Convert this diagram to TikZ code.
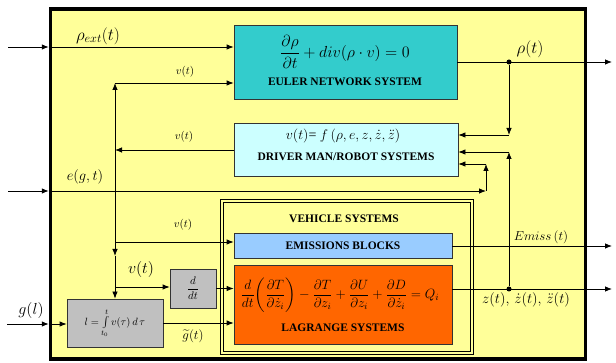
\documentclass[tikz,border=0pt]{standalone}
\usepackage{fix-cm}
\usepackage{amsmath}
\usepackage{fontspec}
\setmainfont{Liberation Serif}
\usetikzlibrary{arrows.meta}

\definecolor{bgyellow}{HTML}{FFFF99}
\definecolor{eulercyan}{HTML}{33CCCC}
\definecolor{drivercyan}{HTML}{CCFFFF}
\definecolor{emisblue}{HTML}{99CCFF}
\definecolor{lagrorange}{HTML}{FF6600}
\definecolor{blockgray}{HTML}{C0C0C0}

\begin{document}
\begin{tikzpicture}[x=1pt, y=-1pt, thick, >={Latex[length=7pt,width=5.5pt]},
	box/.style={draw=black!80, inner sep=0pt},
	title/.style={inner sep=0pt, font=\bfseries\fontsize{11.5}{13}\selectfont},
	eq/.style={inner sep=0pt, font=\fontsize{13}{16}\selectfont},
	lab/.style={inner sep=0pt, font=\fontsize{11}{13}\selectfont},
	biglab/.style={inner sep=0pt, font=\fontsize{16}{19}\selectfont},
	joint/.style={circle, fill=black, inner sep=0pt, minimum size=5pt}]
		\useasboundingbox ( 0, 0 ) rectangle ( 616, 363 );

		% внешняя рамка
		\node [draw, line width=3.5pt, fill=bgyellow, inner sep=0pt, minimum width=535pt, minimum height=350pt] (frame) at ( 318, 184 ) {};

		% система Эйлера
		\node [box, fill=eulercyan, minimum width=223pt, minimum height=74pt] (euler) at ( 345.5, 62 ) {};
		\node [eq, font=\fontsize{16}{19}\selectfont] (eulereq) at ( 345, 52 ) {$\dfrac{\partial\rho}{\partial t}+div(\rho\cdot v)=0$};
		\node [title] (eulertitle) at ( 345, 82 ) {EULER NETWORK SYSTEM};

		% водитель
		\node [box, fill=drivercyan, minimum width=224pt, minimum height=53pt] (driver) at ( 346, 149.5 ) {};
		\node [eq, font=\fontsize{14}{17}\selectfont] (drivereq) at ( 343, 136 ) {$v(t)$= $f\,(\rho,e,z,\dot z,\ddot z)$};
		\node [title] (drivertitle) at ( 346, 157 ) {DRIVER MAN/ROBOT SYSTEMS};

		% транспортное средство
		\node [draw, double=bgyellow, double distance=2pt, line width=0.8pt, inner sep=0pt, minimum width=250.4pt, minimum height=152.4pt] (vehicle) at ( 347, 277 ) {};
		\node [title] (vehicletitle) at ( 344, 219 ) {VEHICLE SYSTEMS};
		\node [box, fill=emisblue, minimum width=218pt, minimum height=25pt] (emis) at ( 343, 246 ) {};
		\node [title] (emistitle) at ( 343, 246 ) {EMISSIONS BLOCKS};
		\node [box, fill=lagrorange, minimum width=218pt, minimum height=79pt] (lagr) at ( 343, 304.5 ) {};
		\node [eq, font=\fontsize{13.5}{16}\selectfont] (lagreq) at ( 340, 295 ) {$\dfrac{d}{dt}\!\left(\dfrac{\partial T}{\partial\dot z_i}\right)-\dfrac{\partial T}{\partial z_i}+\dfrac{\partial U}{\partial z_i}+\dfrac{\partial D}{\partial\dot z_i}=Q_i$};
		\node [title] (lagrtitle) at ( 343, 328 ) {LAGRANGE SYSTEMS};

		% дифференцирование и интеграл
		\node [box, fill=blockgray, minimum width=46pt, minimum height=39pt, font=\fontsize{11}{13}\selectfont] (ddt) at ( 193, 288.5 ) {$\dfrac{d}{dt}$};
		\node [box, fill=blockgray, minimum width=96pt, minimum height=48pt, font=\fontsize{10.5}{12}\selectfont] (integ) at ( 115, 323 ) {$l=\int\limits_{t_0}^{t}v(\tau)\,d\,\tau$};

		% входы
		\coordinate (rhoin) at ( 8, 47 );
		\draw [->] (rhoin) -- (frame.west |- rhoin);
		\draw [->] (frame.west |- rhoin) -- (euler.west |- rhoin);
		\node [biglab, font=\fontsize{17}{20}\selectfont] (rhoextlab) at ( 98, 36 ) {$\rho_{ext}(t)$};

		\coordinate (ein) at ( 8, 191 );
		\coordinate (eturn) at ( 486, 191 );
		\coordinate (eup) at ( 486, 164 );
		\draw [->] (ein) -- (frame.west |- ein);
		\draw [->] (frame.west |- ein) -- (eturn);
		\draw [->] (eturn) -- (eup);
		\draw [->] (eup) -- (driver.east |- eup);
		\node [biglab, font=\fontsize{14.5}{17}\selectfont] (elab) at ( 85, 177 ) {$e(g,t)$};

		\coordinate (gin) at ( 7, 324 );
		\draw [->] (gin) -- (frame.west |- gin);
		\draw [->] (frame.west |- gin) -- (integ.west |- gin);
		\node [biglab] (glab) at ( 31, 311 ) {$g(l)$};

		% скорость v(t)
		\coordinate (vsplit) at ( 115, 150 );
		\coordinate (vtop) at ( 115, 83 );
		\coordinate (vmid) at ( 115, 256 );
		\coordinate (vemis) at ( 115, 242 );
		\coordinate (vddt) at ( 115, 287 );
		\draw [->] (driver.west |- vsplit) -- (vsplit);
		\draw [->] (vsplit) -- (vtop);
		\draw [->] (vtop) -- (euler.west |- vtop);
		\draw [->] (vsplit) -- (vmid);
		\draw [->] (vmid) -- (integ.north);
		\draw [->] (vemis) -- (emis.west |- vemis);
		\draw [->] (vddt) -- (ddt.west |- vddt);
		\node [lab] (vlab1) at ( 185, 72 ) {$v(t)$};
		\node [lab] (vlab2) at ( 184, 137 ) {$v(t)$};
		\node [lab] (vlab3) at ( 183, 225 ) {$v(t)$};
		\node [biglab] (vlab4) at ( 141, 270 ) {$v(t)$};

		\draw [->] (ddt.east) -- (lagr.west |- ddt.east);
		\draw [->] (integ.east) -- (lagr.west |- integ.east);
		\node [lab, font=\fontsize{13}{15}\selectfont] (gtlab) at ( 193, 336 ) {$\widetilde{g}(t)$};

		% выходы
		\coordinate (rhoout) at ( 612, 62 );
		\coordinate (emout) at ( 612, 246 );
		\coordinate (zout) at ( 612, 289 );
		\coordinate (rhoturn) at ( 509, 135 );
		\coordinate (zturn) at ( 509, 152 );
		\draw [->] (euler.east) -- (rhoout);
		\node [joint] (rhodot) at ( 509, 62 ) {};
		\draw [->] (rhodot) -- (rhoturn);
		\draw [->] (rhoturn) -- (driver.east |- rhoturn);
		\node [biglab, font=\fontsize{17}{20}\selectfont] (rholab) at ( 530, 49 ) {$\rho(t)$};

		\draw [->] (emis.east) -- (emout);
		\node [lab, font=\fontsize{13}{15}\selectfont] (emlab) at ( 541, 237 ) {$Emiss\,(t)$};

		\draw [->] (lagr.east |- zout) -- (zout);
		\node [joint] (zdot) at ( 509, 289 ) {};
		\draw [->] (zdot) -- (zturn);
		\draw [->] (zturn) -- (driver.east |- zturn);
		\node [biglab, font=\fontsize{14.5}{17}\selectfont] (zlab) at ( 526, 300 ) {$z(t),\,\dot z(t),\,\ddot z(t)$};
	\end{tikzpicture}
\end{document}
